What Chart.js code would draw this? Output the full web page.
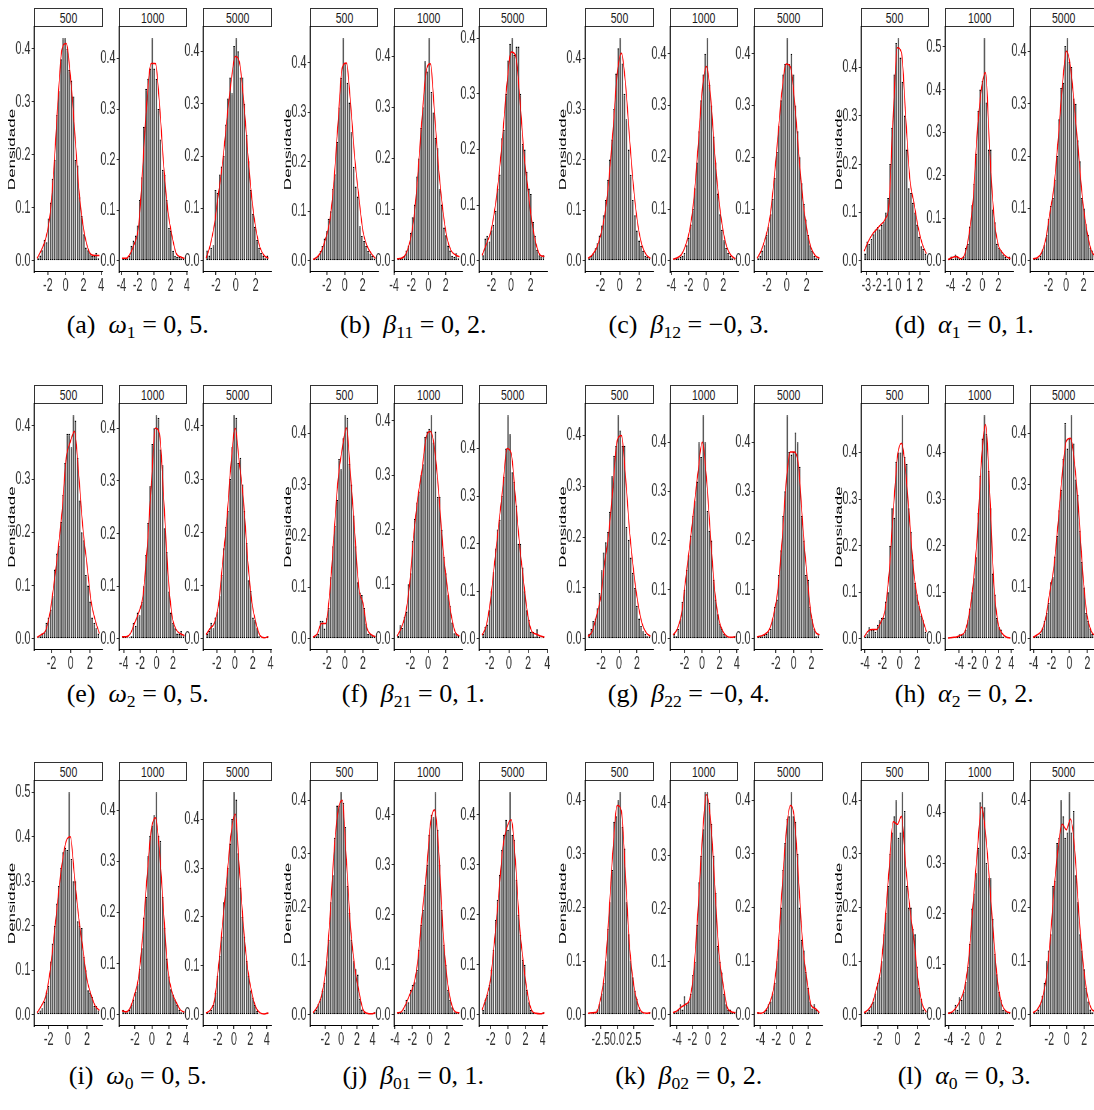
<!DOCTYPE html>
<html><head><meta charset="utf-8">
<script src="https://cdn.jsdelivr.net/npm/chart.js@4.4.0/dist/chart.umd.min.js"></script>
<style>
html,body{margin:0;padding:0;background:#fff;}
body{width:1094px;height:1110px;position:relative;overflow:hidden;}
.pan{position:absolute;transform-origin:0 0;}
.pan canvas{display:block;}
.strip{position:absolute;box-sizing:border-box;border:1.2px solid #333;background:#fff;text-align:center;overflow:hidden;}
.strip span{display:inline-block;font-family:'Liberation Sans',Arial,sans-serif;font-size:15px;line-height:17px;color:#1a1a1a;transform:scaleX(0.7);}
.cap{position:absolute;width:300px;text-align:center;white-space:nowrap;font-family:'Liberation Serif','DejaVu Serif',serif;font-size:26px;line-height:30px;color:#000;}
.cap sub{font-size:0.68em;vertical-align:-0.3em;line-height:0;}
</style></head>
<body>
<script>
// ---------------- data ----------------
const sampleSizes = ['500', '1000', '5000'];
const capLetters = ['a','b','c','d','e','f','g','h','i','j','k','l'];
const capSymbols = ['ω','β','β','α','ω','β','β','α','ω','β','β','α'];
const capSubs = ['1','11','12','1','2','21','22','2','0','01','02','0'];
const capValues = ['0, 5','0, 2','−0, 3','0, 1','0, 5','0, 1','−0, 4','0, 2','0, 5','0, 1','0, 2','0, 3'];

// (a) omega_1
const rangeA = [[-3.2,3.8],[-3.9,3.7],[-3.0,3.3]];
const ticksA = [[-2,0,2,4],[-4,-2,0,2,4],[-2,0,2]];
const barsA = [
 [0.005,0.01,0.02,0.04,0.035,0.08,0.11,0.155,0.19,0.275,0.32,0.38,0.42,0.42,0.40,0.36,0.34,0.31,0.19,0.18,0.12,0.085,0.05,0.025,0.02,0.015,0.01,0.01,0.015,0.005],
 [0.005,0.005,0.005,0.01,0.03,0.04,0.05,0.07,0.12,0.165,0.265,0.34,0.36,0.38,0.44,0.38,0.36,0.30,0.24,0.18,0.17,0.12,0.065,0.06,0.02,0.01,0.008,0.008,0.005,0.005],
 [0.02,0.01,0.025,0.03,0.135,0.13,0.165,0.18,0.2,0.26,0.31,0.35,0.32,0.41,0.425,0.40,0.35,0.35,0.30,0.24,0.19,0.135,0.09,0.065,0.04,0.025,0.015,0.01,0.005,0.01]];
const densA = [
 [0.005,0.02,0.04,0.08,0.17,0.30,0.40,0.41,0.35,0.25,0.14,0.07,0.03,0.012,0.01,0.01],
 [0.005,0.005,0.015,0.035,0.07,0.19,0.32,0.39,0.39,0.31,0.19,0.10,0.05,0.015,0.008,0.005],
 [0.005,0.03,0.07,0.13,0.19,0.27,0.34,0.39,0.38,0.31,0.21,0.12,0.06,0.025,0.01,0.005]];

// (b) beta_11
const rangeB = [[-3.55,3.45],[-3.65,3.6],[-2.95,3.4]];
const ticksB = [[-2,0,2],[-4,-2,0,2],[-2,0,2]];
const barsB = [
 [0.005,0.005,0.01,0.02,0.03,0.045,0.06,0.085,0.1,0.145,0.175,0.24,0.31,0.37,0.45,0.40,0.36,0.32,0.26,0.19,0.15,0.13,0.07,0.05,0.04,0.03,0.02,0.015,0.01,0.005],
 [0.005,0.005,0.005,0.01,0.02,0.03,0.055,0.085,0.11,0.165,0.20,0.26,0.30,0.39,0.37,0.435,0.33,0.29,0.24,0.22,0.14,0.11,0.065,0.05,0.03,0.02,0.01,0.008,0.015,0.005],
 [0.01,0.04,0.045,0.035,0.055,0.065,0.09,0.13,0.155,0.22,0.235,0.30,0.36,0.39,0.40,0.37,0.385,0.385,0.30,0.21,0.20,0.16,0.13,0.12,0.07,0.045,0.02,0.01,0.008,0.01]];
const densB = [
 [0.003,0.008,0.02,0.045,0.08,0.16,0.28,0.39,0.40,0.32,0.21,0.13,0.06,0.03,0.015,0.005],
 [0.004,0.005,0.012,0.035,0.08,0.17,0.28,0.37,0.385,0.29,0.18,0.10,0.045,0.02,0.012,0.008],
 [0.01,0.03,0.05,0.09,0.15,0.23,0.32,0.375,0.37,0.30,0.20,0.13,0.07,0.03,0.01,0.008]];

// (c) beta_12
const rangeC = [[-3.3,3.2],[-3.8,3.4],[-3.0,3.3]];
const ticksC = [[-2,0,2],[-4,-2,0,2],[-2,0,2]];
const barsC = [
 [0.005,0.01,0.015,0.025,0.035,0.05,0.07,0.09,0.12,0.16,0.2,0.24,0.30,0.37,0.42,0.44,0.39,0.33,0.28,0.22,0.17,0.12,0.09,0.06,0.04,0.03,0.02,0.01,0.008,0.005],
 [0.003,0.005,0.005,0.008,0.01,0.015,0.03,0.045,0.07,0.1,0.14,0.19,0.25,0.31,0.36,0.40,0.43,0.34,0.30,0.24,0.19,0.13,0.09,0.06,0.04,0.025,0.015,0.01,0.005,0.003],
 [0.005,0.01,0.02,0.03,0.05,0.065,0.09,0.12,0.16,0.21,0.26,0.31,0.36,0.38,0.43,0.38,0.40,0.36,0.30,0.25,0.20,0.15,0.11,0.08,0.05,0.03,0.02,0.01,0.005,0.005]];
const densC = [
 [0.005,0.012,0.025,0.05,0.09,0.16,0.26,0.37,0.41,0.35,0.24,0.14,0.07,0.03,0.012,0.005],
 [0.003,0.006,0.012,0.03,0.06,0.12,0.22,0.33,0.375,0.32,0.21,0.12,0.06,0.025,0.01,0.004],
 [0.005,0.02,0.045,0.08,0.15,0.24,0.33,0.38,0.375,0.31,0.21,0.12,0.06,0.025,0.01,0.005]];

// (d) alpha_1
const rangeD = [[-3.2,2.6],[-4.3,3.5],[-3.75,3.35]];
const ticksD = [[-3,-2,-1,0,1,2],[-4,-2,0,2],[-2,0,2]];
const barsD = [
 [0.015,0.04,0.035,0.045,0.055,0.065,0.07,0.065,0.075,0.08,0.10,0.13,0.20,0.275,0.385,0.45,0.46,0.42,0.37,0.30,0.23,0.15,0.14,0.12,0.10,0.075,0.05,0.03,0.025,0.015],
 [0.005,0.01,0.005,0.015,0.01,0.005,0.005,0.01,0.03,0.04,0.08,0.13,0.18,0.25,0.35,0.40,0.42,0.52,0.37,0.26,0.26,0.12,0.09,0.04,0.03,0.025,0.015,0.01,0.005,0.01],
 [0.005,0.005,0.005,0.01,0.02,0.03,0.05,0.08,0.105,0.12,0.155,0.20,0.27,0.33,0.34,0.41,0.425,0.38,0.37,0.31,0.30,0.23,0.19,0.12,0.1,0.07,0.05,0.025,0.02,0.01]];
const densD = [
 [0.02,0.04,0.055,0.065,0.075,0.085,0.12,0.30,0.44,0.43,0.30,0.17,0.12,0.07,0.035,0.015],
 [0.003,0.008,0.01,0.005,0.015,0.06,0.14,0.30,0.40,0.44,0.26,0.11,0.04,0.02,0.01,0.005],
 [0.004,0.006,0.015,0.04,0.09,0.14,0.23,0.33,0.40,0.37,0.29,0.20,0.11,0.055,0.02,0.008]];

// (e) omega_2
const rangeE = [[-3.5,3.0],[-4.2,3.4],[-3.2,3.75]];
const ticksE = [[-2,0,2],[-4,-2,0,2],[-2,0,2,4]];
const barsE = [
 [0.003,0.005,0.01,0.012,0.03,0.04,0.055,0.08,0.13,0.16,0.175,0.22,0.27,0.33,0.385,0.385,0.36,0.42,0.41,0.34,0.26,0.20,0.185,0.12,0.10,0.07,0.04,0.03,0.02,0.01],
 [0.005,0.005,0.003,0.003,0.005,0.03,0.025,0.05,0.045,0.07,0.1,0.16,0.22,0.29,0.37,0.40,0.425,0.42,0.36,0.33,0.21,0.165,0.09,0.05,0.03,0.02,0.01,0.01,0.015,0.005],
 [0.01,0.015,0.03,0.02,0.04,0.05,0.08,0.12,0.17,0.21,0.24,0.30,0.36,0.42,0.415,0.33,0.34,0.29,0.24,0.18,0.11,0.09,0.04,0.035,0.02,0.005,0.002,0.003,0.002,0.005]];
const densE = [
 [0.003,0.008,0.015,0.045,0.10,0.165,0.24,0.34,0.37,0.39,0.31,0.21,0.14,0.07,0.035,0.01],
 [0.004,0.004,0.01,0.03,0.05,0.08,0.17,0.29,0.40,0.39,0.27,0.13,0.045,0.018,0.01,0.006],
 [0.008,0.02,0.03,0.065,0.145,0.225,0.33,0.395,0.33,0.26,0.15,0.07,0.03,0.006,0.002,0.004]];

// (f) beta_21
const rangeF = [[-3.55,3.4],[-3.5,3.55],[-2.8,3.7]];
const ticksF = [[-2,0,2],[-2,0,2],[-2,0,2,4]];
const barsF = [
 [0.005,0.005,0.01,0.035,0.035,0.02,0.04,0.06,0.12,0.18,0.22,0.27,0.35,0.33,0.39,0.435,0.43,0.34,0.30,0.24,0.18,0.11,0.09,0.085,0.06,0.03,0.01,0.01,0.008,0.005],
 [0.005,0.025,0.02,0.04,0.05,0.1,0.12,0.18,0.22,0.25,0.27,0.30,0.32,0.37,0.38,0.385,0.41,0.36,0.38,0.26,0.26,0.20,0.15,0.12,0.08,0.06,0.03,0.01,0.01,0.005],
 [0.01,0.025,0.03,0.06,0.10,0.14,0.19,0.23,0.25,0.30,0.34,0.40,0.47,0.43,0.35,0.33,0.28,0.20,0.20,0.15,0.10,0.06,0.04,0.015,0.015,0.005,0.02,0.005,0.003,0.005]];
const densF = [
 [0.003,0.01,0.03,0.03,0.09,0.2,0.31,0.37,0.41,0.32,0.21,0.10,0.07,0.02,0.008,0.004],
 [0.005,0.02,0.045,0.1,0.19,0.26,0.31,0.37,0.38,0.35,0.27,0.17,0.10,0.045,0.012,0.005],
 [0.008,0.028,0.08,0.16,0.24,0.32,0.40,0.39,0.30,0.20,0.12,0.05,0.015,0.01,0.006,0.004]];

// (g) beta_22
const rangeG = [[-3.45,3.5],[-3.3,3.83],[-4.1,2.9]];
const ticksG = [[-2,0,2],[-2,0,2,4],[-2,0,2]];
const barsG = [
 [0.01,0.02,0.035,0.04,0.06,0.09,0.135,0.17,0.19,0.21,0.25,0.32,0.36,0.38,0.44,0.41,0.38,0.38,0.22,0.195,0.16,0.13,0.10,0.065,0.04,0.025,0.015,0.01,0.005,0.005],
 [0.01,0.005,0.02,0.04,0.075,0.10,0.14,0.17,0.21,0.25,0.28,0.32,0.40,0.37,0.455,0.40,0.26,0.22,0.20,0.12,0.08,0.05,0.03,0.02,0.01,0.005,0.003,0.003,0.002,0.005],
 [0.005,0.005,0.005,0.008,0.01,0.015,0.02,0.04,0.065,0.08,0.13,0.18,0.25,0.30,0.455,0.38,0.375,0.38,0.42,0.40,0.35,0.25,0.20,0.13,0.12,0.065,0.04,0.02,0.005,0.01]];
const densG = [
 [0.005,0.015,0.045,0.08,0.15,0.21,0.30,0.39,0.40,0.32,0.21,0.13,0.07,0.03,0.012,0.005],
 [0.008,0.02,0.05,0.12,0.19,0.265,0.34,0.40,0.33,0.21,0.10,0.04,0.015,0.005,0.003,0.004],
 [0.004,0.006,0.01,0.02,0.05,0.10,0.20,0.32,0.38,0.38,0.35,0.23,0.13,0.05,0.015,0.008]];

// (h) alpha_2
const rangeH = [[-4.1,3.05],[-5.7,3.85],[-4.05,2.9]];
const ticksH = [[-4,-2,0,2],[-4,-2,0,2,4],[-4,-2,0,2]];
const barsH = [
 [0.005,0.01,0.025,0.02,0.02,0.015,0.03,0.04,0.045,0.045,0.08,0.10,0.20,0.28,0.26,0.38,0.40,0.40,0.48,0.39,0.375,0.28,0.23,0.17,0.12,0.095,0.07,0.05,0.04,0.015],
 [0.003,0.003,0.003,0.002,0.005,0.01,0.008,0.01,0.02,0.04,0.065,0.10,0.13,0.175,0.27,0.35,0.43,0.48,0.44,0.36,0.28,0.14,0.095,0.045,0.025,0.02,0.005,0.003,0.003,0.002],
 [0.005,0.005,0.005,0.01,0.02,0.035,0.05,0.07,0.11,0.12,0.16,0.20,0.25,0.29,0.35,0.42,0.37,0.39,0.435,0.38,0.31,0.28,0.21,0.15,0.10,0.05,0.035,0.02,0.01,0.005]];
const densH = [
 [0.004,0.017,0.02,0.02,0.035,0.06,0.14,0.27,0.39,0.42,0.36,0.25,0.14,0.08,0.045,0.015],
 [0.002,0.003,0.004,0.008,0.015,0.05,0.115,0.22,0.38,0.46,0.32,0.12,0.035,0.012,0.004,0.002],
 [0.003,0.008,0.015,0.04,0.09,0.14,0.225,0.32,0.385,0.39,0.34,0.245,0.125,0.045,0.015,0.005]];

// (i) omega_0
const rangeI = [[-3.2,3.3],[-3.5,3.8],[-3.4,4.2]];
const ticksI = [[-2,0,2],[-2,0,2,4],[-2,0,2,4]];
const barsI = [
 [0.005,0.01,0.015,0.03,0.05,0.065,0.12,0.16,0.20,0.25,0.29,0.33,0.365,0.375,0.37,0.50,0.35,0.30,0.30,0.21,0.20,0.195,0.13,0.10,0.055,0.05,0.04,0.02,0.02,0.01],
 [0.01,0.005,0.005,0.01,0.02,0.03,0.045,0.06,0.09,0.13,0.19,0.23,0.31,0.35,0.37,0.39,0.435,0.35,0.34,0.23,0.17,0.11,0.075,0.05,0.04,0.03,0.02,0.01,0.005,0.005],
 [0.005,0.005,0.01,0.02,0.045,0.08,0.12,0.16,0.23,0.26,0.30,0.35,0.40,0.455,0.44,0.33,0.26,0.20,0.16,0.11,0.08,0.05,0.035,0.02,0.008,0.003,0.002,0.002,0.003,0.005]];
const densI = [
 [0.005,0.02,0.04,0.09,0.17,0.26,0.34,0.39,0.40,0.31,0.22,0.15,0.08,0.045,0.02,0.01],
 [0.008,0.006,0.015,0.04,0.075,0.16,0.27,0.36,0.385,0.32,0.20,0.09,0.045,0.025,0.01,0.005],
 [0.004,0.01,0.03,0.10,0.19,0.28,0.37,0.41,0.30,0.18,0.095,0.045,0.015,0.004,0.002,0.004]];

// (j) beta_01
const rangeJ = [[-3.55,4.35],[-3.75,3.43],[-3.0,4.2]];
const ticksJ = [[-2,0,2,4],[-4,-2,0,2],[-2,0,2,4]];
const barsJ = [
 [0.005,0.01,0.02,0.03,0.045,0.06,0.10,0.14,0.21,0.26,0.33,0.39,0.39,0.415,0.395,0.35,0.24,0.19,0.14,0.10,0.085,0.075,0.03,0.01,0.005,0.003,0.002,0.002,0.003,0.005],
 [0.005,0.005,0.005,0.01,0.03,0.025,0.05,0.06,0.065,0.09,0.13,0.18,0.21,0.26,0.30,0.36,0.40,0.395,0.445,0.37,0.30,0.21,0.14,0.10,0.05,0.03,0.015,0.005,0.005,0.005],
 [0.01,0.03,0.04,0.06,0.09,0.13,0.19,0.23,0.28,0.33,0.36,0.39,0.37,0.445,0.36,0.35,0.27,0.20,0.16,0.11,0.10,0.05,0.025,0.01,0.005,0.003,0.002,0.002,0.003,0.005]];
const densJ = [
 [0.004,0.015,0.035,0.08,0.175,0.30,0.38,0.40,0.29,0.165,0.09,0.045,0.01,0.003,0.002,0.004],
 [0.004,0.006,0.02,0.04,0.06,0.11,0.20,0.28,0.38,0.41,0.33,0.175,0.075,0.025,0.006,0.004],
 [0.01,0.035,0.07,0.15,0.24,0.335,0.375,0.39,0.31,0.18,0.10,0.04,0.008,0.003,0.002,0.004]];

// (k) beta_02
const rangeK = [[-4.4,5.0],[-4.5,3.55],[-4.4,3.4]];
const ticksK = [[-2.5,0,2.5],[-4,-2,0,2],[-4,-2,0,2]];
const barsK = [
 [0.003,0.003,0.005,0.003,0.01,0.02,0.04,0.06,0.10,0.16,0.21,0.27,0.36,0.37,0.40,0.415,0.35,0.31,0.21,0.15,0.10,0.07,0.045,0.03,0.01,0.005,0.003,0.002,0.002,0.005],
 [0.005,0.005,0.01,0.02,0.01,0.035,0.02,0.025,0.04,0.075,0.10,0.17,0.25,0.30,0.35,0.42,0.42,0.40,0.36,0.30,0.23,0.13,0.10,0.08,0.04,0.02,0.01,0.01,0.005,0.005],
 [0.005,0.002,0.002,0.005,0.01,0.02,0.025,0.04,0.06,0.10,0.14,0.20,0.27,0.32,0.365,0.37,0.415,0.37,0.36,0.30,0.20,0.14,0.12,0.08,0.05,0.025,0.012,0.02,0.01,0.005]];
const densK = [
 [0.003,0.004,0.005,0.03,0.08,0.185,0.31,0.39,0.38,0.26,0.125,0.055,0.02,0.005,0.003,0.004],
 [0.004,0.008,0.015,0.02,0.03,0.085,0.20,0.33,0.415,0.37,0.25,0.12,0.06,0.015,0.006,0.004],
 [0.004,0.003,0.008,0.022,0.05,0.12,0.235,0.34,0.39,0.365,0.25,0.13,0.065,0.018,0.012,0.004]];

// (l) alpha_0
const rangeL = [[-3.4,2.93],[-4.05,3.4],[-3.85,3.3]];
const ticksL = [[-2,0,2],[-4,-2,0,2],[-2,0,2]];
const barsL = [
 [0.005,0.005,0.01,0.02,0.025,0.04,0.06,0.07,0.10,0.15,0.19,0.24,0.30,0.34,0.37,0.40,0.33,0.34,0.415,0.38,0.24,0.20,0.20,0.16,0.15,0.09,0.05,0.03,0.01,0.005],
 [0.005,0.005,0.005,0.02,0.01,0.035,0.03,0.045,0.065,0.095,0.14,0.21,0.24,0.28,0.33,0.42,0.44,0.41,0.30,0.27,0.27,0.19,0.12,0.08,0.045,0.03,0.01,0.01,0.005,0.005],
 [0.005,0.005,0.01,0.02,0.035,0.06,0.10,0.12,0.15,0.24,0.25,0.32,0.33,0.40,0.37,0.33,0.34,0.415,0.34,0.38,0.26,0.21,0.15,0.12,0.085,0.05,0.025,0.01,0.005,0.01]];
const densL = [
 [0.004,0.01,0.022,0.05,0.085,0.17,0.27,0.36,0.355,0.37,0.28,0.20,0.14,0.065,0.02,0.005],
 [0.003,0.006,0.015,0.03,0.055,0.115,0.22,0.32,0.41,0.36,0.26,0.15,0.06,0.02,0.007,0.004],
 [0.004,0.01,0.025,0.06,0.13,0.23,0.31,0.355,0.345,0.365,0.31,0.19,0.10,0.04,0.012,0.006]];

// ---------------- layout ----------------
const groups = [
  {bars:barsA,dens:densA,range:rangeA,ticks:ticksA},{bars:barsB,dens:densB,range:rangeB,ticks:ticksB},
  {bars:barsC,dens:densC,range:rangeC,ticks:ticksC},{bars:barsD,dens:densD,range:rangeD,ticks:ticksD},
  {bars:barsE,dens:densE,range:rangeE,ticks:ticksE},{bars:barsF,dens:densF,range:rangeF,ticks:ticksF},
  {bars:barsG,dens:densG,range:rangeG,ticks:ticksG},{bars:barsH,dens:densH,range:rangeH,ticks:ticksH},
  {bars:barsI,dens:densI,range:rangeI,ticks:ticksI},{bars:barsJ,dens:densJ,range:rangeJ,ticks:ticksJ},
  {bars:barsK,dens:densK,range:rangeK,ticks:ticksK},{bars:barsL,dens:densL,range:rangeL,ticks:ticksL}];

const S = 0.6;              // horizontal squeeze of the plot graphics
const GX0 = 34.4, GDX = 275.4, PDX = 84.5, PW = 68.5;
const STRIP_TOP = [8, 384.5, 762];
const STRIP_H = 19;
const PLOT_BOTTOM = [272, 649, 1026];
const CAP_Y = [325, 694, 1076];
const LEFT = 34, RIGHT = 8, PADTOP = 14, XAXH = 26;
const TICKFONT = {family:"'Liberation Sans', Arial, sans-serif", size:18};

function fmtTicks(ticks){
  const dec = ticks.some(v => Math.round(v) !== v);
  return v => dec ? v.toFixed(1) : String(v);
}

function makePanel(row, g, p, bars, dens, range, ticks){
  const plotLeft = GX0 + g*GDX + p*PDX;
  const plotTop = STRIP_TOP[row] + STRIP_H;
  const plotH = PLOT_BOTTOM[row] - plotTop;

  const st = document.createElement('div');
  st.className = 'strip';
  st.style.left = plotLeft + 'px'; st.style.top = STRIP_TOP[row] + 'px';
  st.style.width = PW + 'px'; st.style.height = STRIP_H + 'px';
  st.innerHTML = '<span>' + sampleSizes[p] + '</span>';
  document.body.appendChild(st);

  const cw = Math.round((LEFT + PW + RIGHT) / S);
  const ch = Math.round(PADTOP + plotH + XAXH);
  const wrap = document.createElement('div');
  wrap.className = 'pan';
  wrap.style.left = (plotLeft - LEFT) + 'px';
  wrap.style.top = (plotTop - PADTOP) + 'px';
  wrap.style.width = cw + 'px'; wrap.style.height = ch + 'px';
  wrap.style.transform = 'scaleX(' + S + ')';
  const cv = document.createElement('canvas');
  cv.width = cw; cv.height = ch;
  cv.style.width = cw + 'px'; cv.style.height = ch + 'px';
  wrap.appendChild(cv);
  document.body.appendChild(wrap);

  const [lo, hi] = range;
  const n = bars.length, w = (hi - lo) / n;
  const barPts = bars.map((y, i) => ({x: lo + (i + 0.5) * w, y}));
  const dn = dens.length;
  const densPts = dens.map((y, k) => ({x: lo + k * (hi - lo) / (dn - 1), y}));
  const ymax = Math.max(...bars, ...dens);
  const yticks = [];
  for (let k = 0; k * 0.1 <= ymax + 1e-9; k++) yticks.push(k / 10);
  const rightPad = cw - LEFT / S - PW / S;
  const xf = fmtTicks(ticks);

  new Chart(cv, {
    type: 'bar',
    data: { datasets: [
      { type:'line', data: densPts, borderColor:'#ff0000', borderWidth:1.5, pointRadius:0,
        cubicInterpolationMode:'monotone', fill:false, order:0 },
      { type:'bar', data: barPts, backgroundColor:'#5a5a5a', borderColor:'#000',
        borderWidth:{top:1.4, bottom:1.4, left:0, right:0}, borderSkipped:false,
        barPercentage:0.8, categoryPercentage:1, grouped:false, order:1 }
    ]},
    options: {
      responsive:false, animation:false, devicePixelRatio:1, events:[],
      layout: { padding: { left:0, top:PADTOP, right:rightPad, bottom:0 } },
      plugins: { legend:{display:false}, tooltip:{enabled:false}, title:{display:false} },
      scales: {
        x: { type:'linear', min: lo - 0.05*(hi-lo), max: hi + 0.05*(hi-lo), offset:false,
             afterBuildTicks: s => { s.ticks = ticks.map(v => ({value:v})); },
             afterFit: s => { s.height = XAXH; },
             ticks: { font:TICKFONT, color:'#333', padding:0, maxRotation:0, autoSkip:false,
                      callback: v => xf(v) },
             grid: { display:true, offset:false, drawOnChartArea:false, drawTicks:true, tickLength:3,
                     color:'#333', lineWidth:1.7 },
             border: { display:true, color:'#000', width:1.1 } },
        y: { type:'linear', min: -0.05*ymax, max: 1.05*ymax,
             afterBuildTicks: s => { s.ticks = yticks.map(v => ({value:v})); },
             afterFit: s => { s.width = LEFT / S; },
             ticks: { font:TICKFONT, color:'#333', padding:2, autoSkip:false,
                      callback: v => v.toFixed(1) },
             grid: { display:true, drawOnChartArea:false, drawTicks:true, tickLength:4,
                     color:'#333', lineWidth:1 },
             border: { display:true, color:'#000', width:1.8 },
             title: { display: p === 0, text:'Densidade', color:'#000',
                      font:{family:"'Liberation Sans', Arial, sans-serif", size:17},
                      padding:{top:10, bottom:0} } }
      }
    }
  });
}

for (let gi = 0; gi < 12; gi++) {
  const row = Math.floor(gi / 4), g = gi % 4;
  const G = groups[gi];
  for (let p = 0; p < 3; p++) makePanel(row, g, p, G.bars[p], G.dens[p], G.range[p], G.ticks[p]);
  const cap = document.createElement('div');
  cap.className = 'cap';
  const cx = 137.75 + g * 275.5;
  cap.style.left = (cx - 150) + 'px';
  cap.style.top = (CAP_Y[row] - 15) + 'px';
  cap.innerHTML = '(' + capLetters[gi] + ')&nbsp;&nbsp;<i>' + capSymbols[gi] + '</i><sub>' + capSubs[gi] +
                  '</sub>&nbsp;=&nbsp;' + capValues[gi] + '.';
  document.body.appendChild(cap);
}
</script>
</body></html>
